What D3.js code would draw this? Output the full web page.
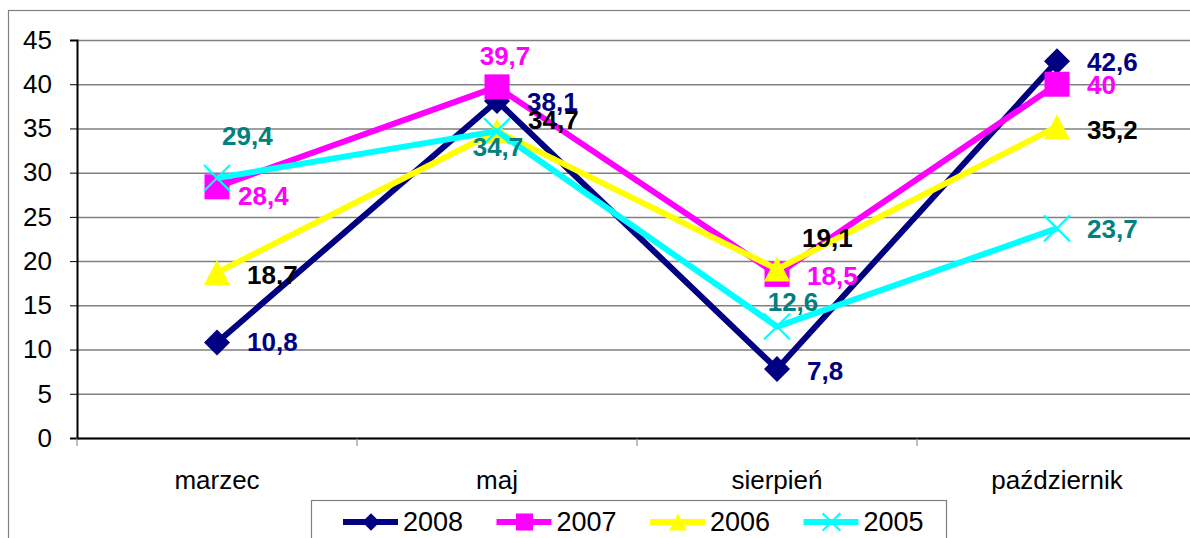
<!DOCTYPE html>
<html lang="pl">
<head>
<meta charset="utf-8">
<title>Wykres liniowy 2005-2008</title>
<script src="https://d3js.org/d3.v7.min.js"></script>
<style>
  body { margin: 0; background: #fff; }
  svg { display: block; font-family: Arial, "Liberation Sans", sans-serif; }
</style>
</head>
<body>
<div id="chart"></div>
<script>
// data
var categories = ["marzec", "maj", "sierpień", "październik"];
var years = ["2008", "2007", "2006", "2005"];
var values2008 = [10.8, 38.1, 7.8, 42.6];
var values2007 = [28.4, 39.7, 18.5, 40];
var values2006 = [18.7, 34.7, 19.1, 35.2];
var values2005 = [29.4, 34.7, 12.6, 23.7];
var yTicks = [0, 5, 10, 15, 20, 25, 30, 35, 40, 45];

// label nudges [anchor, dx, dy] - the labels were moved by hand in the original
var labelNudge = {
  "2008": [["start", 30, 0], ["start", 30, 1], ["start", 30, 2], ["start", 30, 1]],
  "2007": [["start", 21, 9], ["middle", 8, -31], ["start", 30, 2], ["start", 30, 1]],
  "2006": [["start", 30, 2], ["start", 31, -11], ["start", 25, -31], ["start", 30, 3]],
  "2005": [["start", 5, -42], ["middle", 1, 16], ["middle", 16, -25], ["start", 30, 1]]
};

var series = [
  { name: years[0], values: values2008, color: "#000080", label: "#000080", marker: "diamond" },
  { name: years[1], values: values2007, color: "#ff00ff", label: "#ff00ff", marker: "square" },
  { name: years[2], values: values2006, color: "#ffff00", label: "#000000", marker: "triangle" },
  { name: years[3], values: values2005, color: "#00ffff", label: "#008080", marker: "x" }
];

var width = 1190, height = 538;
var plot = { left: 77, top: 40, right: 1197, bottom: 438 };

var svg = d3.select("#chart").append("svg")
  .attr("width", width)
  .attr("height", height);

// outer chart frame (runs off the picture right and bottom)
svg.append("rect")
  .attr("x", 8.5).attr("y", 10.5)
  .attr("width", 1300).attr("height", 700)
  .attr("fill", "#fff")
  .attr("stroke", "#808080")
  .attr("stroke-width", 1.2);

var x = d3.scaleBand().domain(categories).range([plot.left, plot.right]);
var y = d3.scaleLinear().domain([0, 45]).range([plot.bottom, plot.top]);
var cx = function(i) { return x(categories[i]) + x.bandwidth() / 2; };

// gridlines
svg.append("g")
  .attr("transform", "translate(" + plot.left + ",0)")
  .call(d3.axisLeft(y).tickValues(yTicks).tickSize(-(plot.right - plot.left)).tickFormat(""))
  .call(function(g) {
    g.select(".domain").remove();
    g.selectAll("line").attr("stroke", "#808080").attr("stroke-width", 1.5);
  });

// y axis
svg.append("g")
  .attr("transform", "translate(" + plot.left + ",0)")
  .call(d3.axisLeft(y).tickValues(yTicks).tickSize(7).tickPadding(18))
  .call(function(g) {
    g.select(".domain").attr("stroke", "#000").attr("stroke-width", 2);
    g.selectAll("line").attr("stroke", "#000").attr("stroke-width", 1);
    g.selectAll("text")
      .attr("font-size", 26)
      .attr("font-family", "Arial, 'Liberation Sans', sans-serif")
      .attr("fill", "#000");
  });

// x axis
var xAxis = svg.append("g")
  .attr("transform", "translate(0," + plot.bottom + ")")
  .call(d3.axisBottom(x).tickSize(0).tickPadding(33))
  .call(function(g) {
    g.select(".domain").attr("stroke", "#000").attr("stroke-width", 2);
    g.selectAll("text")
      .attr("font-size", 26)
      .attr("font-family", "Arial, 'Liberation Sans', sans-serif")
      .attr("fill", "#000");
  });

// tick marks between categories
xAxis.selectAll(".sep")
  .data(categories)
  .enter().append("line")
  .attr("x1", function(d) { return x(d); })
  .attr("x2", function(d) { return x(d); })
  .attr("y1", 0).attr("y2", 8)
  .attr("stroke", "#808080")
  .attr("stroke-width", 1);

// marker shapes
function markerPath(type, s) {
  if (type === "diamond") {
    var r = 13 * s;
    return "M0," + (-r) + "L" + r + ",0L0," + r + "L" + (-r) + ",0Z";
  }
  if (type === "square") {
    var h = 12.5 * s;
    return "M" + (-h) + "," + (-h) + "H" + h + "V" + h + "H" + (-h) + "Z";
  }
  if (type === "triangle") {
    var w = 13 * s, t = 12.5 * s;
    return "M0," + (-t) + "L" + w + "," + t + "L" + (-w) + "," + t + "Z";
  }
  var k = 13 * s;
  return "M" + (-k) + "," + (-k) + "L" + k + "," + k + "M" + k + "," + (-k) + "L" + (-k) + "," + k;
}

function drawMarker(g, type, color, s) {
  var p = g.append("path").attr("d", markerPath(type, s));
  if (type === "x") {
    p.attr("fill", "none").attr("stroke", color).attr("stroke-width", 2.2);
  } else {
    p.attr("fill", color).attr("stroke", "none");
  }
}

var line = d3.line()
  .x(function(d, i) { return cx(i); })
  .y(function(d) { return y(d); });

series.forEach(function(s) {
  var g = svg.append("g").attr("class", "series");
  g.append("path")
    .attr("d", line(s.values))
    .attr("fill", "none")
    .attr("stroke", s.color)
    .attr("stroke-width", 6)
    .attr("stroke-linejoin", "miter");
  s.values.forEach(function(v, i) {
    var m = g.append("g").attr("transform", "translate(" + cx(i) + "," + y(v) + ")");
    drawMarker(m, s.marker, s.color, 1);
  });
});

// data labels on top
series.forEach(function(s) {
  svg.append("g").selectAll("text")
    .data(s.values)
    .enter().append("text")
    .attr("x", function(d, i) { return cx(i) + labelNudge[s.name][i][1]; })
    .attr("y", function(d, i) { return y(d) + labelNudge[s.name][i][2]; })
    .attr("text-anchor", function(d, i) { return labelNudge[s.name][i][0]; })
    .attr("dominant-baseline", "central")
    .attr("font-size", 26)
    .attr("font-weight", "bold")
    .attr("fill", s.label)
    .text(function(d) { return String(d).replace(".", ","); });
});

// legend
var legend = svg.append("g");
legend.append("rect")
  .attr("x", 311.5).attr("y", 500.5)
  .attr("width", 635).attr("height", 80)
  .attr("fill", "#fff")
  .attr("stroke", "#808080")
  .attr("stroke-width", 1.2);

var item = legend.selectAll(".item")
  .data(series)
  .enter().append("g")
  .attr("transform", function(d, i) { return "translate(" + (343 + i * 153.5) + ",522)"; });

item.append("line")
  .attr("x1", 0).attr("x2", 55)
  .attr("stroke", function(d) { return d.color; })
  .attr("stroke-width", 6);

item.each(function(d) {
  var m = d3.select(this).append("g").attr("transform", "translate(28,0)");
  drawMarker(m, d.marker, d.color, 0.68);
});

item.append("text")
  .attr("x", 60)
  .attr("dominant-baseline", "central")
  .attr("font-size", 27)
  .attr("fill", "#000")
  .text(function(d) { return d.name; });
</script>
</body>
</html>
